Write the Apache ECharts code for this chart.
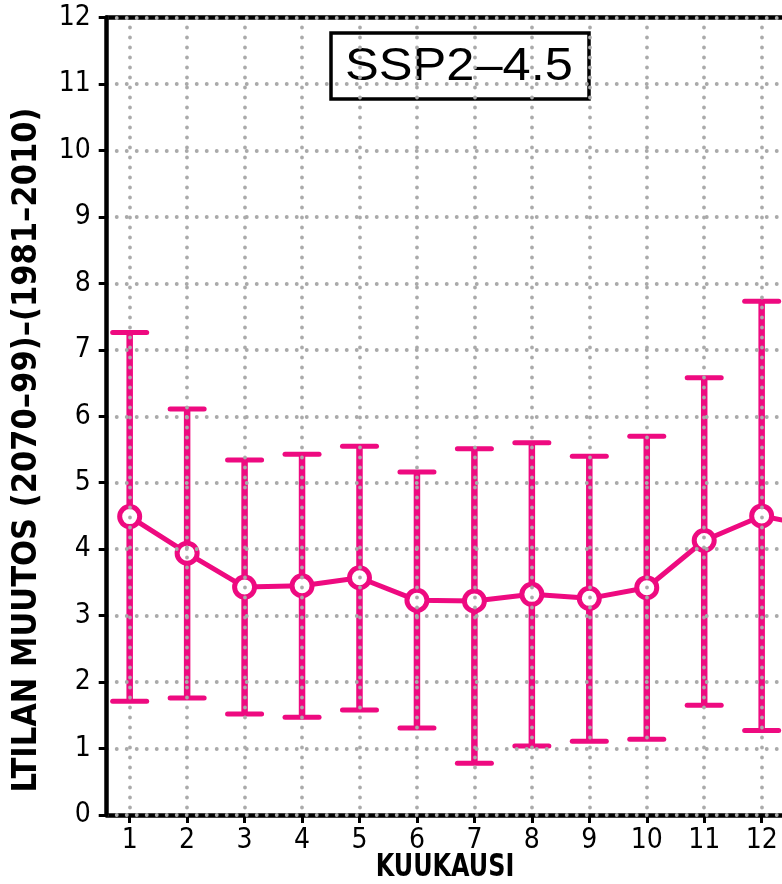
<!DOCTYPE html>
<html><head><meta charset="utf-8">
<script src="https://cdn.jsdelivr.net/npm/echarts@6/dist/echarts.min.js"></script>
<style>html,body{margin:0;padding:0;background:#fff}#c{width:782px;height:884px}</style>
</head><body><div id="c"></div>
<script>
// ---- data ----
const months = [1, 2, 3, 4, 5, 6, 7, 8, 9, 10, 11, 12];
const meanValues  = [4.49, 3.94, 3.43, 3.45, 3.57, 3.23, 3.22, 3.32, 3.26, 3.42, 4.13, 4.50];
const upperValues = [7.26, 6.11, 5.34, 5.43, 5.55, 5.16, 5.51, 5.60, 5.40, 5.70, 6.58, 7.73];
const lowerValues = [1.71, 1.76, 1.52, 1.47, 1.58, 1.31, 0.78, 1.04, 1.11, 1.14, 1.65, 1.27];
// line continues beyond the cropped right edge
const extraMonth = [13];
const extraMean = [4.33];
const yTicks = [0, 1, 2, 3, 4, 5, 6, 7, 8, 9, 10, 11, 12];
const xTickLabels = ['1','2','3','4','5','6','7','8','9','10','11','12'];
const titleText = 'SSP2–4.5';
const yTitle = 'LTILAN MUUTOS (2070–99)–(1981–2010)';
const xTitle = 'KUUKAUSI';

const PINK = '#ee0a80';
const NARROW = "'Liberation Sans Narrow', 'DejaVu Sans Condensed', 'Liberation Sans', sans-serif";
const dotted = { color: '#aaaaaa', width: 3.8, type: [0.1, 9.9], cap: 'round' };

const lineData = months.map((m, i) => [m, meanValues[i]])
  .concat(extraMonth.map((m, i) => [m, extraMean[i]]));
const barData = months.map((m, i) => [m, lowerValues[i], upperValues[i]]);

const chart = echarts.init(document.getElementById('c'), null, { renderer: 'canvas' });
chart.setOption({
  animation: false,
  backgroundColor: '#fff',
  grid: { left: 106.7, right: 0, top: 17.5, bottom: 69, containLabel: false },
  xAxis: [{
    type: 'value', min: 0.6, max: 12.354, z: 5,
    axisLine: { show: true, onZero: false, lineStyle: { color: '#000', width: 4.5 } },
    axisTick: { show: true, length: 8, customValues: months, lineStyle: { color: '#000', width: 3 } },
    axisLabel: { show: true, customValues: months, margin: 12, color: '#000', fontSize: 28,
      fontFamily: NARROW, formatter: v => xTickLabels[months.indexOf(v)] || '' },
    splitLine: { show: true, lineStyle: dotted }
  }, {
    type: 'value', position: 'top', min: 0.6, max: 12.354, z: 5,
    axisLine: { show: true, onZero: false, lineStyle: { color: '#000', width: 4.5 } },
    axisTick: { show: false }, axisLabel: { show: false }, splitLine: { show: false }
  }],
  yAxis: {
    type: 'value', min: yTicks[0], max: yTicks[yTicks.length - 1], interval: 1, z: 6,
    axisLine: { show: true, lineStyle: { color: '#000', width: 4.5 } },
    axisTick: { show: true, length: 8, lineStyle: { color: '#000', width: 3 } },
    axisLabel: { margin: 16, color: '#000', fontSize: 28, fontFamily: NARROW },
    splitLine: { show: true, showMinLine: true, showMaxLine: true, lineStyle: dotted }
  },
  series: [{
    type: 'custom', z: 2, data: barData,
    renderItem: function (params, api) {
      const x = api.value(0), lo = api.value(1), hi = api.value(2);
      const pLo = api.coord([x, lo]);
      const pHi = api.coord([x, hi]);
      const half = 17;
      return { type: 'group', children: [
        { type: 'line', shape: { x1: pLo[0], y1: pLo[1], x2: pHi[0], y2: pHi[1] },
          style: { stroke: PINK, lineWidth: 6.5 } },
        { type: 'line', shape: { x1: pHi[0] - half, y1: pHi[1], x2: pHi[0] + half, y2: pHi[1] },
          style: { stroke: PINK, lineWidth: 5, lineCap: 'round' } },
        { type: 'line', shape: { x1: pLo[0] - half, y1: pLo[1], x2: pLo[0] + half, y2: pLo[1] },
          style: { stroke: PINK, lineWidth: 5, lineCap: 'round' } }
      ]};
    }
  }, {
    type: 'line', z: 3, data: lineData,
    lineStyle: { color: PINK, width: 5 },
    symbol: 'circle', symbolSize: 20, showAllSymbol: true,
    itemStyle: { color: '#fff', borderColor: PINK, borderWidth: 5 }
  }],
  graphic: [{
    type: 'group', z: 100, children: [
      { type: 'rect', shape: { x: 331, y: 33, width: 258, height: 66 },
        style: { fill: '#fff', stroke: '#000', lineWidth: 3.5 } },
      { type: 'text', x: 459, y: 67, scaleX: 1.1,
        style: { text: titleText, fill: '#000', font: "normal 46px 'Liberation Sans', sans-serif",
          align: 'center', verticalAlign: 'middle' } }
    ]
  }, {
    type: 'text', z: 100, x: 27, y: 450, rotation: Math.PI / 2,
    style: { text: yTitle, fill: '#000', font: "bold 34px " + NARROW, align: 'center', verticalAlign: 'middle' }
  }, {
    type: 'text', z: 100, x: 445, y: 868, scaleX: 0.83,
    style: { text: xTitle, fill: '#000', font: "bold 32px " + NARROW, align: 'center', verticalAlign: 'middle' }
  }]
});
</script>
</body></html>
